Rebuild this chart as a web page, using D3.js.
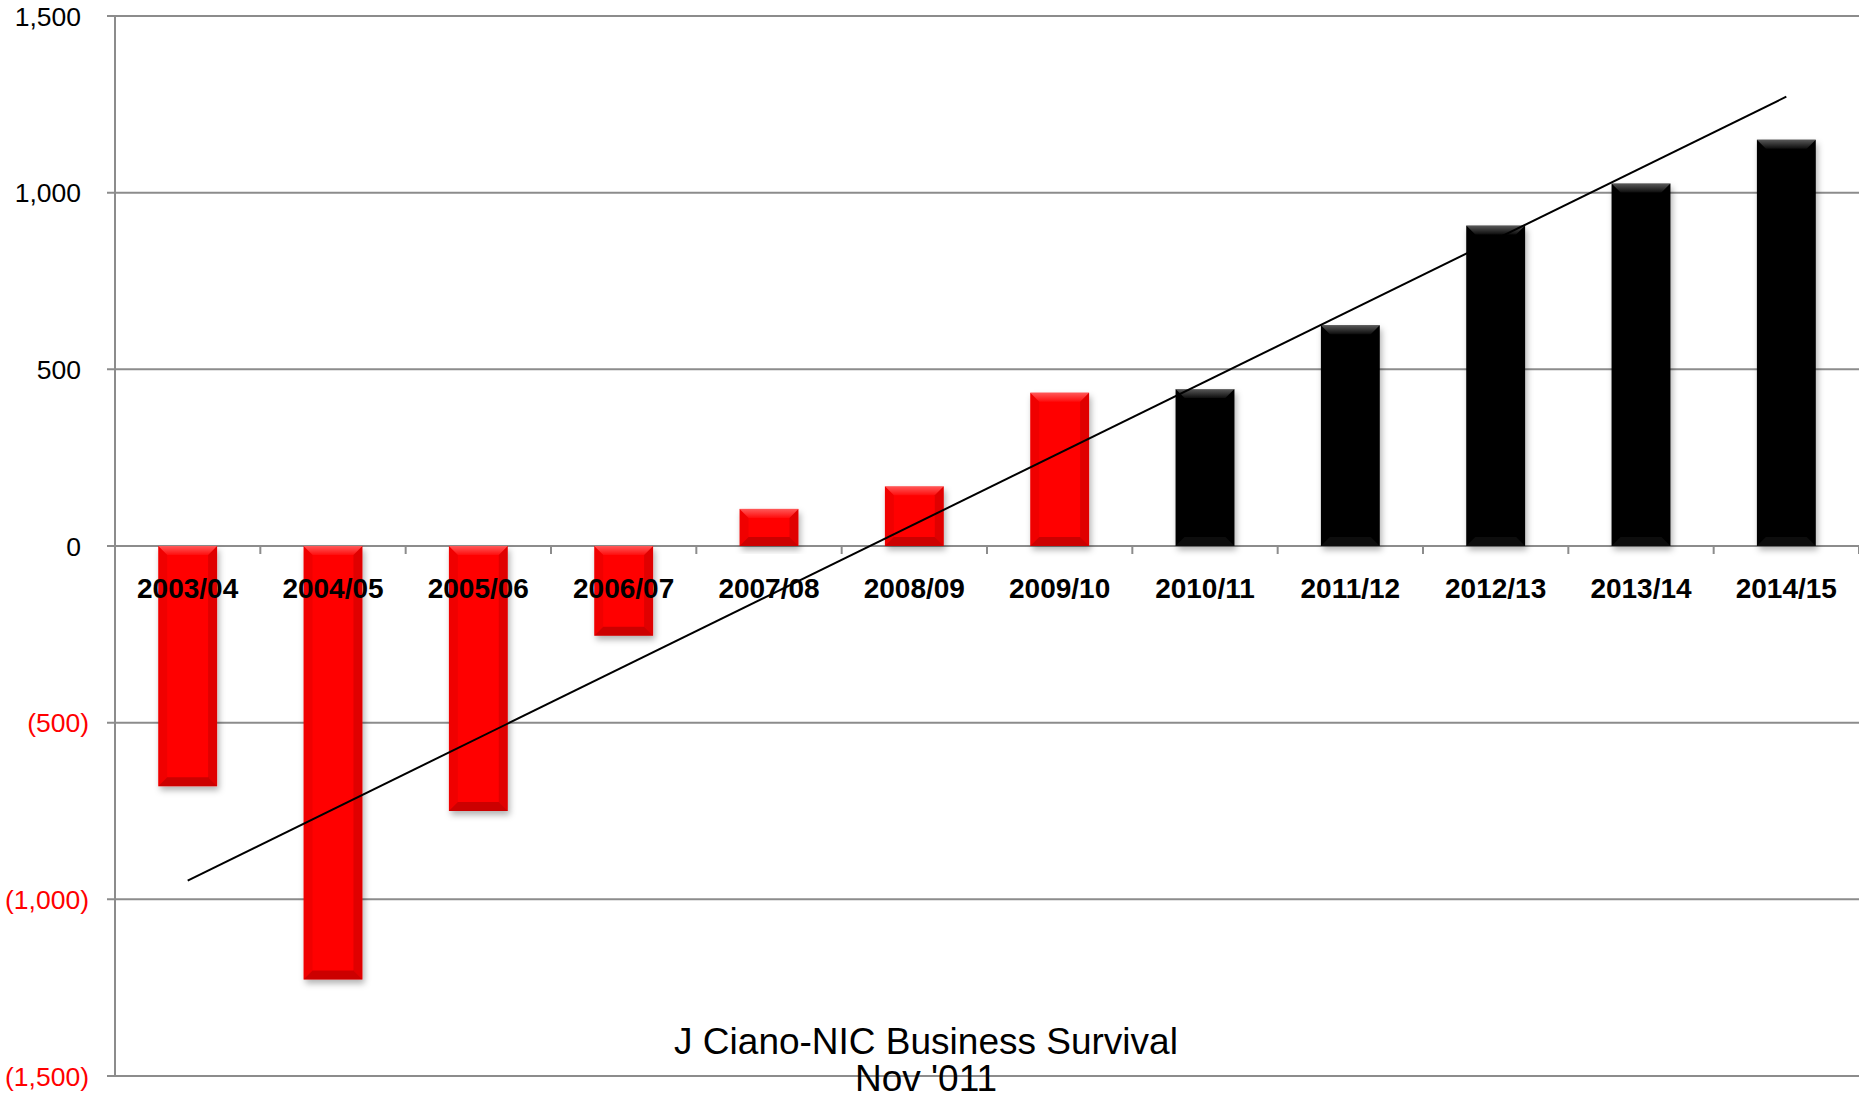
<!DOCTYPE html>
<html>
<head>
<meta charset="utf-8">
<script src="https://cdn.jsdelivr.net/npm/d3@7"></script>
<style>
  body { margin: 0; background: #fff; }
  svg { display: block; font-family: "Liberation Sans", Arial, sans-serif; }
</style>
</head>
<body>
<div id="chart"></div>
<script>
// data
const categories = ["2003/04", "2004/05", "2005/06", "2006/07", "2007/08", "2008/09",
  "2009/10", "2010/11", "2011/12", "2012/13", "2013/14", "2014/15"];
const values = [-680, -1227, -750, -254, 105, 169, 434, 444, 625, 907, 1026, 1150];
const status = ["actual", "actual", "actual", "actual", "actual", "actual", "actual",
  "projected", "projected", "projected", "projected", "projected"];
const yTicks = [-1500, -1000, -500, 0, 500, 1000, 1500];
const titleLines = ["J Ciano-NIC Business Survival", "Nov '011"];

function drawChart() {
  const container = d3.select("#chart");
  container.selectAll("*").remove();

  const width = 1859;
  const height = 1101;
  const margin = { top: 16, right: 0, bottom: 25, left: 115 };

  const svg = container.append("svg")
    .attr("width", width)
    .attr("height", height);

  const defs = svg.append("defs");
  const shadow = defs.append("filter").attr("id", "shadow")
    .attr("x", "-30%").attr("y", "-10%").attr("width", "160%").attr("height", "130%");
  shadow.append("feDropShadow")
    .attr("dx", 2).attr("dy", 4).attr("stdDeviation", 3)
    .attr("flood-color", "#000").attr("flood-opacity", 0.3);

  const hi = defs.append("linearGradient").attr("id", "hi")
    .attr("x1", 0).attr("y1", 0).attr("x2", 0).attr("y2", 1);
  hi.append("stop").attr("offset", "0%").attr("stop-color", "#fff").attr("stop-opacity", 0.35);
  hi.append("stop").attr("offset", "100%").attr("stop-color", "#fff").attr("stop-opacity", 0.05);

  const x = d3.scaleBand()
    .domain(categories)
    .range([margin.left, width - margin.right])
    .paddingInner(0.595)
    .paddingOuter(0.2975);

  const y = d3.scaleLinear()
    .domain([-1500, 1500])
    .range([height - margin.bottom, margin.top]);

  const color = d3.scaleOrdinal()
    .domain(["actual", "projected"])
    .range(["#ff0000", "#060606"]);

  const fmt = d3.format(",");

  // gridlines + y labels
  const yAxis = svg.append("g");
  yAxis.selectAll("line.grid")
    .data(yTicks)
    .enter().append("line")
    .attr("class", "grid")
    .attr("x1", margin.left - 8)
    .attr("x2", width)
    .attr("y1", d => y(d))
    .attr("y2", d => y(d))
    .attr("stroke", "#8c8c8c")
    .attr("stroke-width", 2);

  yAxis.selectAll("text")
    .data(yTicks)
    .enter().append("text")
    .attr("x", d => d < 0 ? 89 : 81)
    .attr("y", d => y(d))
    .attr("dy", "0.36em")
    .attr("text-anchor", "end")
    .attr("font-size", 26.5)
    .attr("fill", d => d < 0 ? "#ff0000" : "#000")
    .text(d => d < 0 ? "(" + fmt(-d) + ")" : fmt(d));

  svg.append("line")
    .attr("x1", margin.left).attr("x2", margin.left)
    .attr("y1", y(1500)).attr("y2", y(-1500))
    .attr("stroke", "#8c8c8c")
    .attr("stroke-width", 2);

  // category ticks on the zero line
  const step = x.step();
  svg.append("g").selectAll("line")
    .data(d3.range(categories.length + 1))
    .enter().append("line")
    .attr("x1", i => margin.left + i * step)
    .attr("x2", i => margin.left + i * step)
    .attr("y1", y(0))
    .attr("y2", y(0) + 8)
    .attr("stroke", "#8c8c8c")
    .attr("stroke-width", 2);

  // bars with bevel
  const bars = svg.append("g").selectAll("g.bar")
    .data(categories.map((c, i) => ({ cat: c, value: values[i], status: status[i] })))
    .enter().append("g")
    .attr("class", "bar");

  bars.append("rect")
    .attr("x", d => x(d.cat))
    .attr("y", d => y(Math.max(0, d.value)))
    .attr("width", x.bandwidth())
    .attr("height", d => Math.abs(y(d.value) - y(0)))
    .attr("fill", d => color(d.status))
    .attr("filter", "url(#shadow)");

  const b = 9;
  function pts(d, side) {
    const x0 = x(d.cat), x1 = x0 + x.bandwidth();
    const y0 = y(Math.max(0, d.value)), y1 = y(Math.min(0, d.value));
    const bb = Math.min(b, (y1 - y0) / 2);
    if (side === "top") return [[x0, y0], [x1, y0], [x1 - bb, y0 + bb], [x0 + bb, y0 + bb]];
    if (side === "bottom") return [[x0, y1], [x1, y1], [x1 - bb, y1 - bb], [x0 + bb, y1 - bb]];
    if (side === "left") return [[x0, y0], [x0 + bb, y0 + bb], [x0 + bb, y1 - bb], [x0, y1]];
    return [[x1, y0], [x1 - bb, y0 + bb], [x1 - bb, y1 - bb], [x1, y1]];
  }
  bars.append("polygon")
    .attr("points", d => pts(d, "top").join(" "))
    .attr("fill", "url(#hi)");
  bars.append("polygon")
    .attr("points", d => pts(d, "left").join(" "))
    .attr("fill", "#000").attr("fill-opacity", 0.06);
  bars.append("polygon")
    .attr("points", d => pts(d, "right").join(" "))
    .attr("fill", "#000").attr("fill-opacity", 0.12);
  bars.append("polygon")
    .attr("points", d => pts(d, "bottom").join(" "))
    .attr("fill", d => d.status === "actual" ? "#000" : "#fff")
    .attr("fill-opacity", d => d.status === "actual" ? 0.2 : 0.05);

  // category labels
  svg.append("g").selectAll("text")
    .data(categories)
    .enter().append("text")
    .attr("x", d => x(d) + x.bandwidth() / 2)
    .attr("y", 598)
    .attr("text-anchor", "middle")
    .attr("font-size", 28)
    .attr("font-weight", "bold")
    .attr("fill", "#000")
    .text(d => d);

  // linear trendline (least squares over the bar values)
  const n = values.length;
  const mx = d3.mean(d3.range(n));
  const my = d3.mean(values);
  const slope = d3.sum(values, (v, i) => (i - mx) * (v - my)) / d3.sum(d3.range(n), i => (i - mx) * (i - mx));
  const icpt = my - slope * mx;
  const line = d3.line()
    .x(i => x(categories[i]) + x.bandwidth() / 2)
    .y(i => y(icpt + slope * i));
  svg.append("path")
    .datum([0, n - 1])
    .attr("d", line)
    .attr("fill", "none")
    .attr("stroke", "#000")
    .attr("stroke-width", 2);

  // title
  svg.append("g").selectAll("text")
    .data(titleLines)
    .enter().append("text")
    .attr("x", 926)
    .attr("y", (d, i) => 1054 + i * 37)
    .attr("text-anchor", "middle")
    .attr("font-size", 37)
    .attr("fill", "#000")
    .text(d => d);
}

drawChart();
</script>
</body>
</html>
